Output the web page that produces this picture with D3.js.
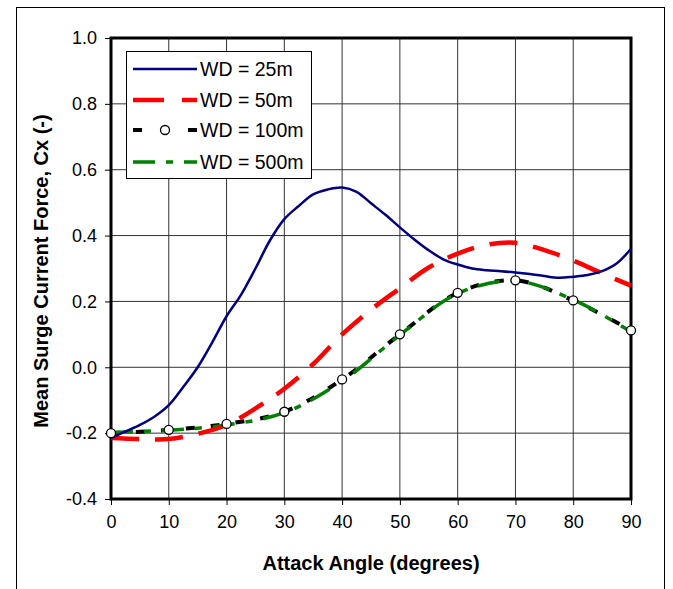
<!DOCTYPE html>
<html>
<head>
<meta charset="utf-8">
<script src="https://cdn.jsdelivr.net/npm/d3@7"></script>
<style>
    body { margin: 0; background: #fff; }
    text { font-family: "Liberation Sans", Arial, sans-serif; }
</style>
</head>
<body>
<div id="vis"></div>
<script>
/* Mean surge current force Cx versus attack angle, for four water depths. */

// Angles for the finely sampled 25m curve
var angles = [0, 2.5, 5, 7.5, 10, 12.5, 15, 17.5, 20, 22.5, 25, 27.5, 30, 32.5, 35, 37.5, 40, 42.5, 45,
    47.5, 50, 52.5, 55, 57.5, 60, 62.5, 65, 67.5, 70, 72.5, 75, 77.5, 80, 82.5, 85, 87.5, 90];
var wd25 = [-0.215, -0.195, -0.175, -0.15, -0.115, -0.06, 0.0, 0.075, 0.155, 0.22, 0.30, 0.385, 0.45,
    0.49, 0.525, 0.54, 0.546, 0.533, 0.498, 0.463, 0.425, 0.388, 0.355, 0.328, 0.312, 0.300, 0.295,
    0.292, 0.288, 0.283, 0.277, 0.272, 0.275, 0.280, 0.292, 0.315, 0.36];

// 50m curve, every 5 degrees
var anglesRed = [0, 5, 10, 15, 20, 25, 30, 35, 40, 45, 50, 55, 60, 65, 70, 75, 80, 85, 90];
var wd50 = [-0.215, -0.218, -0.218, -0.202, -0.175, -0.125, -0.065, 0.01, 0.10, 0.175, 0.24, 0.303,
    0.345, 0.372, 0.378, 0.356, 0.324, 0.285, 0.248];

// Deeper water cases, every 10 degrees
var anglesDeep = [0, 10, 20, 30, 40, 50, 60, 70, 80, 90];
var wd100 = [-0.2, -0.19, -0.172, -0.135, -0.037, 0.10, 0.226, 0.264, 0.203, 0.112];
var wd500 = [-0.198, -0.191, -0.175, -0.138, -0.042, 0.098, 0.224, 0.262, 0.205, 0.108];

var seriesNames = ['WD = 25m', 'WD = 50m', 'WD = 100m', 'WD = 500m'];
var xTicks = [0, 10, 20, 30, 40, 50, 60, 70, 80, 90];
var yTicks = [-0.4, -0.2, 0.0, 0.2, 0.4, 0.6, 0.8, 1.0];

// SVG size
var width = 673;
var height = 589;

// Plot area edges
var margin = { top: 38, right: 42, bottom: 90, left: 111 };
var drawWidth = width - margin.left - margin.right;
var drawHeight = height - margin.top - margin.bottom;

let svg = d3.select('#vis')
    .append('svg')
    .attr('width', width)
    .attr('height', height);

// Outer border (bottom edge runs off the picture)
svg.append('rect')
    .attr('x', 16.5).attr('y', 7.5)
    .attr('width', 648).attr('height', 600)
    .attr('fill', 'none').attr('stroke', '#000').attr('stroke-width', 1);

let g = svg.append('g')
    .attr('transform', `translate(${margin.left}, ${margin.top})`);

/************************************** Scales ***************************************/
let xScale = d3.scaleLinear().domain([0, 90]).range([0, drawWidth]);
let yScale = d3.scaleLinear().domain([-0.4, 1.0]).range([drawHeight, 0]);

/************************************** Grid ***************************************/
g.append('g')
    .selectAll('line')
    .data(xTicks)
    .enter().append('line')
    .attr('x1', d => xScale(d)).attr('x2', d => xScale(d))
    .attr('y1', 0).attr('y2', drawHeight)
    .attr('stroke', '#333').attr('stroke-width', 1);

g.append('g')
    .selectAll('line')
    .data(yTicks)
    .enter().append('line')
    .attr('x1', 0).attr('x2', drawWidth)
    .attr('y1', d => yScale(d)).attr('y2', d => yScale(d))
    .attr('stroke', '#333').attr('stroke-width', 1);

/************************************** Axes ***************************************/
let xAxis = d3.axisBottom(xScale).tickValues(xTicks).tickSize(6).tickPadding(10).tickFormat(d => d);
let yAxis = d3.axisLeft(yScale).tickValues(yTicks).tickSize(6).tickPadding(8).tickFormat(d => d.toFixed(1));

let xAxisG = g.append('g')
    .attr('transform', `translate(0,${drawHeight})`)
    .call(xAxis);
let yAxisG = g.append('g').call(yAxis);

[xAxisG, yAxisG].forEach(a => {
    a.select('.domain').remove();
    a.selectAll('text').attr('font-size', 18).attr('fill', '#000')
        .style('font-family', '"Liberation Sans", Arial, sans-serif');
    a.selectAll('line').attr('stroke', '#000');
});

// Frame
g.append('rect')
    .attr('width', drawWidth).attr('height', drawHeight)
    .attr('fill', 'none').attr('stroke', '#000').attr('stroke-width', 3);

/************************************** Lines ***************************************/
svg.append('clipPath').attr('id', 'plotclip')
    .append('rect').attr('x', -2).attr('y', -2).attr('width', drawWidth + 6).attr('height', drawHeight + 4);

let lineGen = d3.line()
    .x(d => xScale(d[0]))
    .y(d => yScale(d[1]))
    .curve(d3.curveCatmullRom.alpha(0.5));

let lines = g.append('g').attr('clip-path', 'url(#plotclip)');

lines.append('path')
    .datum(d3.zip(anglesDeep, wd100))
    .attr('d', lineGen)
    .attr('fill', 'none').attr('stroke', '#000').attr('stroke-width', 4)
    .attr('stroke-dasharray', '9,16');

lines.append('path')
    .datum(d3.zip(anglesDeep, wd500))
    .attr('d', lineGen)
    .attr('fill', 'none').attr('stroke', '#008000').attr('stroke-width', 3.5)
    .attr('stroke-dasharray', '22,11,7,11');

lines.append('path')
    .datum(d3.zip(anglesRed, wd50))
    .attr('d', lineGen)
    .attr('fill', 'none').attr('stroke', '#ff0000').attr('stroke-width', 4.5)
    .attr('stroke-dasharray', '28,16');

lines.append('path')
    .datum(d3.zip(angles, wd25))
    .attr('d', lineGen)
    .attr('fill', 'none').attr('stroke', '#000080').attr('stroke-width', 2.5);

// Markers on the 100m curve
g.append('g')
    .selectAll('circle')
    .data(d3.zip(anglesDeep, wd100))
    .enter().append('circle')
    .attr('cx', d => xScale(d[0]))
    .attr('cy', d => yScale(d[1]))
    .attr('r', 4.5)
    .attr('fill', '#fff').attr('stroke', '#000').attr('stroke-width', 1.3);

/************************************** Labels ***************************************/
svg.append('text')
    .attr('x', 371).attr('y', 570)
    .attr('text-anchor', 'middle')
    .attr('font-size', 20).attr('font-weight', 'bold')
    .text('Attack Angle (degrees)');

svg.append('text')
    .attr('transform', 'translate(48,271) rotate(-90)')
    .attr('text-anchor', 'middle')
    .attr('font-size', 20).attr('font-weight', 'bold')
    .text('Mean Surge Current Force, Cx (-)');

/************************************** Legend ***************************************/
let legendStyles = [
    { color: '#000080', width: 2.5, dash: null },
    { color: '#ff0000', width: 4.5, dash: '31,18' },
    { color: '#000', width: 4, dash: '9,46,9' },
    { color: '#008000', width: 3.5, dash: '22,11,7,11' }
];

let legend = svg.append('g').attr('transform', 'translate(126,51)');
legend.append('rect')
    .attr('x', 0.5).attr('y', 0.5).attr('width', 185).attr('height', 127)
    .attr('fill', '#fff').attr('stroke', '#000').attr('stroke-width', 1);

let rowY = [18, 49, 79, 111];
seriesNames.forEach((name, i) => {
    let s = legendStyles[i];
    legend.append('line')
        .attr('x1', 7).attr('x2', 71)
        .attr('y1', rowY[i]).attr('y2', rowY[i])
        .attr('stroke', s.color).attr('stroke-width', s.width)
        .attr('stroke-dasharray', s.dash);
    if (i === 2) {
        legend.append('circle')
            .attr('cx', 39).attr('cy', rowY[i]).attr('r', 4.5)
            .attr('fill', '#fff').attr('stroke', '#000').attr('stroke-width', 1.3);
    }
    legend.append('text')
        .attr('x', 74).attr('y', rowY[i] + 7)
        .attr('font-size', 19.5)
        .text(name);
});
</script>
</body>
</html>
